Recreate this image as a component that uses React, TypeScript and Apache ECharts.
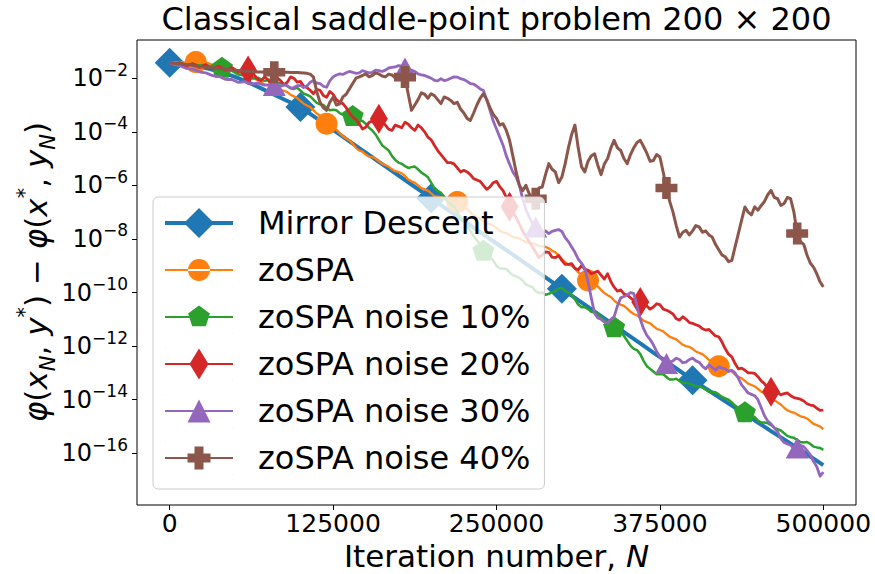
import React, { useEffect, useRef } from 'react';
import * as echarts from 'echarts';

const FONT = 'DejaVu Sans';

const seriesNames = [
  'Mirror Descent',
  'zoSPA',
  'zoSPA noise 10%',
  'zoSPA noise 20%',
  'zoSPA noise 30%',
  'zoSPA noise 40%',
];
const seriesColors = ['#1f77b4', '#ff7f0e', '#2ca02c', '#d62728', '#9467bd', '#8c564b'];

// x ticks (iterations) and y ticks (log10 of the gap)
const xTicks = [0, 125000, 250000, 375000, 500000];
const yTicks = [-16, -14, -12, -10, -8, -6, -4, -2];
const xRange = [-25000, 525000];
const yRange = [-17.93, -0.575];

// sampling steps (iterations)
const blueStep = 10000;
const noisyStep = 5000;

// values are log10( phi(x_N,y*) - phi(x*,y_N) )
const mirrorDescent = [
  -1.42, -1.47, -1.55, -1.65, -1.78, -1.95, -2.15, -2.38, -2.62, -2.85,
  -3.08, -3.42, -3.76, -4.1, -4.44, -4.78, -5.12, -5.46, -5.8, -6.14,
  -6.48, -6.82, -7.15, -7.49, -7.83, -8.17, -8.5, -8.84, -9.18, -9.52,
  -9.86, -10.2, -10.54, -10.88, -11.22, -11.56, -11.9, -12.24, -12.58, -12.92,
  -13.27, -13.58, -13.9, -14.22, -14.53, -14.85, -15.17, -15.48, -15.8, -16.12,
  -16.44,
];

// noisy series: values at multiples of 5000 ...
const zoSPA = [
  -1.42, -1.41, -1.4, -1.4, -1.4, -1.42, -1.45, -1.5, -1.55, -1.63,
  -1.72, -1.82, -1.92, -2.03, -2.15, -2.27, -2.38, -2.45, -2.52, -2.68,
  -2.85, -3.02, -3.2, -3.4, -3.7, -3.85, -4.05, -4.25, -4.45, -4.7,
  -4.85, -4.95, -5.1, -5.25, -5.4, -5.5, -5.65, -5.85, -6.0, -6.15,
  -6.3, -6.42, -6.5, -6.55, -6.62, -6.8, -7.0, -7.2, -7.35, -7.45,
  -7.6, -7.75, -7.85, -7.95, -8.05, -8.15, -8.2, -8.28, -8.35, -8.5,
  -8.75, -8.95, -9.1, -9.35, -9.55, -9.7, -9.9, -10.1, -10.3, -10.45,
  -10.6, -10.8, -10.95, -11.1, -11.25, -11.4, -11.55, -11.7, -11.85, -12.0,
  -12.1, -12.25, -12.4, -12.6, -12.75, -12.85, -12.95, -13.15, -13.3, -13.45,
  -13.6, -13.75, -13.9, -14.1, -14.3, -14.45, -14.55, -14.65, -14.8, -14.95,
  -15.1,
];
// ... and in between (2500 + multiples of 5000)
const zoSPAMid = [
  -1.43, -1.39, -1.42, -1.38, -1.43, -1.42, -1.5, -1.5, -1.62, -1.65,
  -1.8, -1.85, -2.0, -2.07, -2.23, -2.3, -2.44, -2.47, -2.62, -2.74,
  -2.95, -3.08, -3.32, -3.52, -3.8, -3.92, -4.17, -4.33, -4.6, -4.74,
  -4.93, -5.0, -5.2, -5.3, -5.47, -5.55, -5.78, -5.9, -6.1, -6.2,
  -6.4, -6.44, -6.56, -6.57, -6.72, -6.88, -7.12, -7.25, -7.42, -7.5,
  -7.7, -7.78, -7.93, -7.98, -8.12, -8.16, -8.27, -8.3, -8.44, -8.6,
  -8.87, -9.0, -9.25, -9.42, -9.65, -9.77, -10.02, -10.17, -10.4, -10.5,
  -10.72, -10.85, -11.05, -11.15, -11.35, -11.45, -11.65, -11.75, -11.95, -12.03,
  -12.2, -12.3, -12.52, -12.65, -12.82, -12.88, -13.07, -13.2, -13.4, -13.5,
  -13.7, -13.8, -14.02, -14.18, -14.4, -14.48, -14.62, -14.7, -14.9, -15.0,
];

const noise10 = [
  -1.42, -1.44, -1.46, -1.48, -1.5, -1.52, -1.54, -1.57, -1.59, -1.68,
  -1.8, -1.88, -1.95, -2.0, -2.05, -2.08, -2.12, -2.2, -2.3, -2.4,
  -2.46, -2.62, -2.8, -2.98, -3.1, -3.18, -3.3, -3.35, -3.39, -3.55,
  -3.7, -3.95, -4.3, -4.6, -4.9, -5.15, -5.28, -5.32, -5.4, -5.6,
  -5.9, -6.2, -6.43, -6.7, -7.0, -7.35, -7.7, -8.05, -8.42, -8.7,
  -9.0, -9.1, -9.25, -9.4, -9.55, -9.75, -9.95, -10.0, -10.05, -9.95,
  -9.82, -10.0, -10.25, -10.55, -10.62, -10.75, -10.92, -11.1, -11.28, -11.5,
  -11.8, -12.1, -12.3, -12.75, -12.95, -13.05, -13.15, -13.25, -13.3, -13.38,
  -13.45, -13.5, -13.62, -13.7, -13.8, -13.95, -14.1, -14.3, -14.45, -14.6,
  -14.78, -14.85, -14.95, -15.1, -15.25, -15.4, -15.5, -15.6, -15.65, -15.78,
  -15.87,
];
const noise10Mid = [
  -1.45, -1.43, -1.49, -1.47, -1.53, -1.5, -1.58, -1.55, -1.66, -1.72,
  -1.86, -1.9, -2.0, -1.98, -2.1, -2.05, -2.18, -2.22, -2.38, -2.36,
  -2.58, -2.68, -2.92, -3.0, -3.2, -3.2, -3.36, -3.33, -3.5, -3.6,
  -3.85, -4.1, -4.5, -4.7, -5.05, -5.2, -5.35, -5.3, -5.52, -5.7,
  -6.1, -6.28, -6.6, -6.8, -7.2, -7.5, -7.9, -8.2, -8.6, -8.8,
  -9.1, -9.12, -9.35, -9.45, -9.7, -9.8, -10.02, -10.08, -9.98, -9.85,
  -9.95, -10.1, -10.45, -10.55, -10.72, -10.8, -11.05, -11.15, -11.42, -11.62,
  -11.98, -12.15, -12.55, -12.85, -13.05, -13.05, -13.25, -13.22, -13.38, -13.4,
  -13.5, -13.55, -13.7, -13.72, -13.9, -14.0, -14.22, -14.35, -14.55, -14.65,
  -14.85, -14.88, -15.05, -15.15, -15.35, -15.42, -15.58, -15.58, -15.75, -15.8,
];

const noise20 = [
  -1.42, -1.45, -1.47, -1.5, -1.52, -1.55, -1.58, -1.6, -1.62, -1.65,
  -1.68, -1.7, -1.71, -1.9, -2.09, -2.05, -2.2, -2.1, -2.15, -2.0,
  -2.12, -2.35, -2.58, -2.45, -2.71, -2.6, -2.9, -3.1, -3.45, -3.7,
  -3.83, -3.6, -3.51, -3.75, -3.95, -3.8, -3.64, -3.85, -3.75, -4.0,
  -4.3, -4.7, -5.0, -5.15, -5.35, -5.44, -5.6, -5.8, -6.0, -6.06,
  -5.85, -6.2, -6.8, -7.2, -7.7, -8.1, -8.5, -8.6, -8.5, -8.7,
  -8.8, -8.95, -9.1, -9.0, -9.17, -9.25, -9.35, -9.3, -9.8, -9.9,
  -10.1, -10.29, -10.35, -10.5, -10.54, -10.45, -10.66, -10.8, -11.03, -11.0,
  -11.15, -11.25, -11.4, -11.5, -11.65, -12.1, -12.4, -12.85, -12.9, -13.0,
  -13.14, -13.4, -13.7, -13.72, -13.77, -13.85, -13.95, -14.05, -14.2, -14.32,
  -14.39,
];
const noise20Mid = [
  -1.5, -1.42, -1.55, -1.46, -1.6, -1.5, -1.66, -1.55, -1.7, -1.6,
  -1.76, -1.64, -1.82, -2.05, -1.95, -2.2, -2.0, -2.25, -1.95, -2.15,
  -2.3, -2.45, -2.42, -2.65, -2.5, -2.8, -2.95, -3.3, -3.55, -3.9,
  -3.65, -3.75, -3.6, -3.9, -3.75, -3.85, -3.72, -3.95, -3.85, -4.2,
  -4.5, -4.85, -5.15, -5.2, -5.5, -5.5, -5.75, -5.85, -6.15, -5.9,
  -6.05, -6.45, -7.0, -7.45, -7.9, -8.3, -8.7, -8.48, -8.68, -8.62,
  -8.95, -8.92, -9.15, -9.12, -9.3, -9.2, -9.5, -9.6, -9.95, -10.05,
  -10.2, -10.4, -10.38, -10.62, -10.42, -10.62, -10.72, -10.98, -10.9, -11.12,
  -11.2, -11.35, -11.38, -11.62, -11.85, -12.3, -12.65, -12.82, -13.0, -13.02,
  -13.3, -13.58, -13.65, -13.82, -13.75, -13.92, -13.98, -14.15, -14.22, -14.4,
];

const noise30 = [
  -1.42, -1.5, -1.58, -1.65, -1.7, -1.78, -1.85, -1.92, -1.98, -2.05,
  -2.1, -2.15, -2.18, -2.2, -2.22, -2.25, -2.27, -2.3, -2.28, -2.35,
  -2.27, -2.3, -2.09, -2.2, -2.34, -1.95, -1.84, -1.8, -1.78, -1.8,
  -1.76, -1.78, -1.72, -1.7, -1.6, -1.53, -1.62, -1.7, -1.84, -1.9,
  -2.0, -2.1, -2.09, -2.0, -1.96, -2.05, -2.2, -2.3, -2.46, -3.2,
  -3.9, -4.5, -5.2, -5.69, -6.5, -7.18, -7.55, -7.8, -7.8, -7.68,
  -7.72, -8.1, -8.5, -8.9, -9.6, -10.77, -11.0, -11.15, -10.9, -10.2,
  -10.1, -10.04, -11.0, -11.6, -11.95, -12.4, -12.65, -12.55, -12.5, -12.6,
  -12.45, -12.6, -12.85, -12.8, -12.77, -12.85, -12.9, -13.2, -13.6, -13.8,
  -14.0, -14.6, -14.9, -15.2, -15.6, -15.7, -15.8, -15.75, -16.05, -16.5,
  -16.7,
];
const noise30Mid = [
  -1.48, -1.52, -1.63, -1.66, -1.76, -1.8, -1.9, -1.93, -2.04, -2.05,
  -2.16, -2.13, -2.22, -2.18, -2.26, -2.22, -2.32, -2.25, -2.36, -2.28,
  -2.35, -2.15, -2.18, -2.3, -2.1, -1.88, -1.86, -1.75, -1.82, -1.72,
  -1.8, -1.7, -1.75, -1.62, -1.58, -1.55, -1.68, -1.75, -1.88, -1.95,
  -2.08, -2.02, -2.06, -1.95, -2.02, -2.12, -2.22, -2.4, -2.8, -3.6,
  -4.2, -4.9, -5.5, -6.0, -6.9, -7.4, -7.72, -7.7, -7.72, -7.65,
  -7.95, -8.3, -8.75, -9.1, -10.2, -10.95, -11.1, -11.0, -10.5, -10.15,
  -10.0, -10.5, -11.35, -11.75, -12.2, -12.55, -12.6, -12.45, -12.62, -12.5,
  -12.55, -12.75, -12.7, -12.9, -12.82, -12.95, -13.0, -13.45, -13.75, -13.85,
  -14.3, -14.8, -15.05, -15.45, -15.65, -15.82, -15.7, -15.9, -16.3, -16.85,
];

const noise40 = [
  -1.42, -1.45, -1.48, -1.5, -1.55, -1.58, -1.6, -1.62, -1.65, -1.68,
  -1.7, -1.72, -1.75, -1.76, -1.77, -1.78, -1.78, -1.78, -1.78, -1.79,
  -1.8, -1.82, -1.96, -2.9, -3.2, -2.71, -2.96, -2.6, -2.2, -1.95,
  -1.84, -1.9, -1.84, -1.95, -1.88, -2.0, -1.96, -3.2, -2.8, -2.6,
  -2.58, -2.8, -2.7, -2.83, -2.9, -3.3, -3.58, -3.0, -2.58, -3.1,
  -3.5, -3.7, -4.32, -5.5, -6.2, -6.31, -6.5, -6.06, -5.19, -5.5,
  -5.69, -4.6, -3.75, -5.3, -5.1, -4.82, -5.6, -5.0, -4.32, -4.7,
  -5.19, -4.6, -4.32, -4.8, -5.07, -4.94, -6.1, -7.0, -7.93, -7.68,
  -7.7, -7.55, -7.7, -7.93, -8.4, -8.67, -8.8, -7.8, -6.81, -7.1,
  -6.93, -6.6, -6.19, -6.5, -6.68, -6.5, -7.8, -8.2, -8.9, -9.3,
  -9.79,
];
const noise40Mid = [
  -1.44, -1.46, -1.49, -1.52, -1.56, -1.59, -1.61, -1.64, -1.66, -1.69,
  -1.71, -1.73, -1.75, -1.77, -1.77, -1.78, -1.78, -1.78, -1.79, -1.79,
  -1.81, -1.85, -2.5, -3.1, -2.9, -3.0, -2.7, -2.4, -2.0, -1.9,
  -1.95, -1.8, -1.92, -1.85, -1.98, -1.9, -2.6, -3.0, -2.55, -2.75,
  -2.65, -2.95, -2.75, -2.95, -3.15, -3.5, -3.3, -2.75, -2.8, -3.35,
  -3.75, -3.95, -4.9, -6.0, -6.0, -6.5, -6.1, -5.6, -5.4, -5.9,
  -5.2, -4.1, -4.6, -5.5, -4.9, -5.25, -5.2, -4.6, -4.6, -5.0,
  -4.85, -4.4, -4.55, -5.1, -4.85, -5.5, -6.6, -7.5, -7.75, -7.85,
  -7.5, -7.75, -7.85, -8.2, -8.6, -8.85, -8.3, -7.3, -7.0, -6.8,
  -6.75, -6.35, -6.45, -6.75, -6.45, -7.0, -8.1, -8.6, -9.05, -9.6,
];

const seriesValues = [mirrorDescent, zoSPA, noise10, noise20, noise30, noise40];
const seriesMidValues: (number[] | null)[] = [null, zoSPAMid, noise10Mid, noise20Mid, noise30Mid, noise40Mid];
const seriesSteps = [blueStep, noisyStep, noisyStep, noisyStep, noisyStep, noisyStep];

// iterations at which each series shows a marker
const markerIters = [
  [0, 100000, 200000, 300000, 400000],
  [20000, 120000, 220000, 320000, 420000],
  [40000, 140000, 240000, 340000, 440000],
  [60000, 160000, 260000, 360000, 460000],
  [80000, 180000, 280000, 380000, 480000],
  [80000, 180000, 280000, 380000, 480000],
];

const PENTAGON = 'path://M0,-1 L0.951,-0.309 L0.588,0.809 L-0.588,0.809 L-0.951,-0.309 Z';
const PLUS =
  'path://M-1,-0.39 L-0.39,-0.39 L-0.39,-1 L0.39,-1 L0.39,-0.39 L1,-0.39 L1,0.39 L0.39,0.39 L0.39,1 L-0.39,1 L-0.39,0.39 L-1,0.39 Z';
const markerSymbols = ['diamond', 'circle', PENTAGON, 'diamond', 'triangle', PLUS];
const markerSizes: any[] = [[30, 30], [22, 22], [22, 21], [18, 30], [23, 21], [22, 22]];
const lineWidths = [4, 2.3, 2.5, 2.8, 2.8, 3];

// legend handles drawn in a 68 x 34 box (line + marker)
const CORNERS = 'M0,0 L0.4,0 L0,0.4 Z M68,34 L67.6,34 L68,33.6 Z ';
const legendIcons = [
  'path://' + CORNERS + 'M0,15 H68 V19 H0 Z M34,2 L49,17 L34,32 L19,17 Z',
  'path://' + CORNERS + 'M0,16 H68 V18 H0 Z M23,17 A11,11 0 1,0 45,17 A11,11 0 1,0 23,17 Z',
  'path://' + CORNERS + 'M0,16 H68 V18 H0 Z M34,5.5 L44.9,13.4 L40.8,26.3 L27.2,26.3 L23.1,13.4 Z',
  'path://' + CORNERS + 'M0,16 H68 V18 H0 Z M34,1.5 L43.5,17 L34,32.5 L24.5,17 Z',
  'path://' + CORNERS + 'M0,16 H68 V18 H0 Z M34,5.5 L45.5,28.5 L22.5,28.5 Z',
  'path://' + CORNERS +
    'M0,16 H68 V18 H0 Z M22.5,12.5 H29.5 V5.5 H38.5 V12.5 H45.5 V21.5 H38.5 V28.5 H29.5 V21.5 H22.5 Z',
];

function buildSeries() {
  return seriesValues.map((vals, s) => {
    const step = seriesSteps[s];
    const marks = markerIters[s];
    const mids = seriesMidValues[s];
    const data: any[] = [];
    vals.forEach((v, i) => {
      const n = i * step;
      if (marks.includes(n)) {
        data.push({ value: [n, v], symbol: markerSymbols[s], symbolSize: markerSizes[s] });
      } else {
        data.push({ value: [n, v], symbol: 'none' });
      }
      if (mids && i < mids.length) {
        data.push({ value: [n + step / 2, mids[i]], symbol: 'none' });
      }
    });
    return {
      type: 'line',
      name: seriesNames[s],
      data,
      z: 2 + s,
      showSymbol: true,
      showAllSymbol: true,
      silent: true,
      color: seriesColors[s],
      lineStyle: { color: seriesColors[s], width: lineWidths[s], join: 'round' },
      itemStyle: { color: seriesColors[s], borderWidth: 0, opacity: 1 },
      emphasis: { disabled: true },
    };
  });
}

const yLabelRich = {
  b: { fontSize: 24, lineHeight: 34, fontFamily: FONT, color: '#000', verticalAlign: 'middle' },
  s: { fontSize: 17, lineHeight: 17, fontFamily: FONT, color: '#000', verticalAlign: 'top' },
};

const yNameRich = {
  r: { fontSize: 31, lineHeight: 44, fontFamily: FONT, fill: '#000', verticalAlign: 'middle' },
  i: { fontSize: 31, lineHeight: 44, fontFamily: FONT, fontStyle: 'italic', fill: '#000', verticalAlign: 'middle' },
  sup: { fontSize: 21, lineHeight: 21, fontFamily: FONT, fill: '#000', verticalAlign: 'top' },
  sub: { fontSize: 21, lineHeight: 21, fontFamily: FONT, fontStyle: 'italic', fill: '#000', verticalAlign: 'bottom' },
};

export default function App() {
  const ref = useRef<HTMLDivElement>(null);
  useEffect(() => {
    if (!ref.current) return;
    const chart = echarts.init(ref.current, null, { renderer: 'svg' });
    const option: any = {
      animation: false,
      backgroundColor: '#ffffff',
      grid: {
        left: 137,
        right: 19,
        top: 40,
        bottom: 69,
        show: true,
        borderColor: '#000',
        borderWidth: 1,
        backgroundColor: 'transparent',
        containLabel: false,
        outerBoundsMode: 'none',
      },
      xAxis: {
        type: 'value',
        min: xRange[0],
        max: xRange[1],
        splitLine: { show: false },
        axisLine: { show: false, onZero: false },
        axisTick: { show: true, customValues: xTicks, length: 5, lineStyle: { color: '#000', width: 1 } },
        axisLabel: {
          customValues: xTicks,
          fontSize: 25,
          lineHeight: 25,
          fontFamily: FONT,
          color: '#000',
          margin: 6,
          formatter: (v: number) => String(v),
        },
      },
      yAxis: {
        type: 'value',
        min: yRange[0],
        max: yRange[1],
        splitLine: { show: false },
        axisLine: { show: false, onZero: false },
        axisTick: { show: true, customValues: yTicks, length: 5, lineStyle: { color: '#000', width: 1 } },
        axisLabel: {
          customValues: yTicks,
          margin: 9,
          formatter: (v: number) => `{b|10}{s|\u2212${Math.abs(v)}}`,
          rich: yLabelRich,
        },
      },
      legend: {
        orient: 'vertical',
        left: 153,
        top: 197,
        z: 20,
        selectedMode: false,
        itemWidth: 68,
        itemHeight: 34,
        itemGap: 13,
        padding: [9, 14, 14, 12],
        backgroundColor: 'rgba(255,255,255,0.8)',
        borderColor: '#cccccc',
        borderWidth: 1,
        borderRadius: 5,
        itemStyle: { borderWidth: 0 },
        textStyle: {
          fontSize: 32,
          lineHeight: 34,
          fontFamily: FONT,
          color: '#000',
          padding: [0, 0, 0, 20],
        },
        data: seriesNames.map((n, i) => ({ name: n, icon: legendIcons[i] })),
      },
      graphic: [
        {
          type: 'text',
          x: 496.5,
          y: 19,
          style: {
            text: 'Classical saddle-point problem 200 \u00d7 200',
            fontSize: 32,
            fontFamily: FONT,
            fill: '#000',
            align: 'center',
            verticalAlign: 'middle',
          },
        },
        {
          type: 'text',
          x: 496.5,
          y: 556,
          style: {
            text: '{r|Iteration number, }{i|N}',
            rich: {
              r: { fontSize: 31, lineHeight: 32, fontFamily: FONT, fill: '#000' },
              i: { fontSize: 31, lineHeight: 32, fontFamily: FONT, fontStyle: 'italic', fill: '#000' },
            },
            align: 'center',
            verticalAlign: 'middle',
          },
        },
        {
          type: 'text',
          x: 36,
          y: 272,
          rotation: Math.PI / 2,
          style: {
            text:
              '{i|\u03c6}{r|(}{i|x}{sub|N}{r|, }{i|y}{sup|*}{r|) \u2212 }{i|\u03c6}{r|(}{i|x}{sup|*}{r|, }{i|y}{sub|N}{r|)}',
            rich: yNameRich,
            align: 'center',
            verticalAlign: 'middle',
          },
        },
      ],
      series: buildSeries(),
    };
    chart.setOption(option);
    return () => chart.dispose();
  }, []);
  return (
    <div
      ref={ref}
      style={{ position: 'fixed', left: 0, top: 0, width: 875, height: 574, background: '#fff' }}
    />
  );
}
